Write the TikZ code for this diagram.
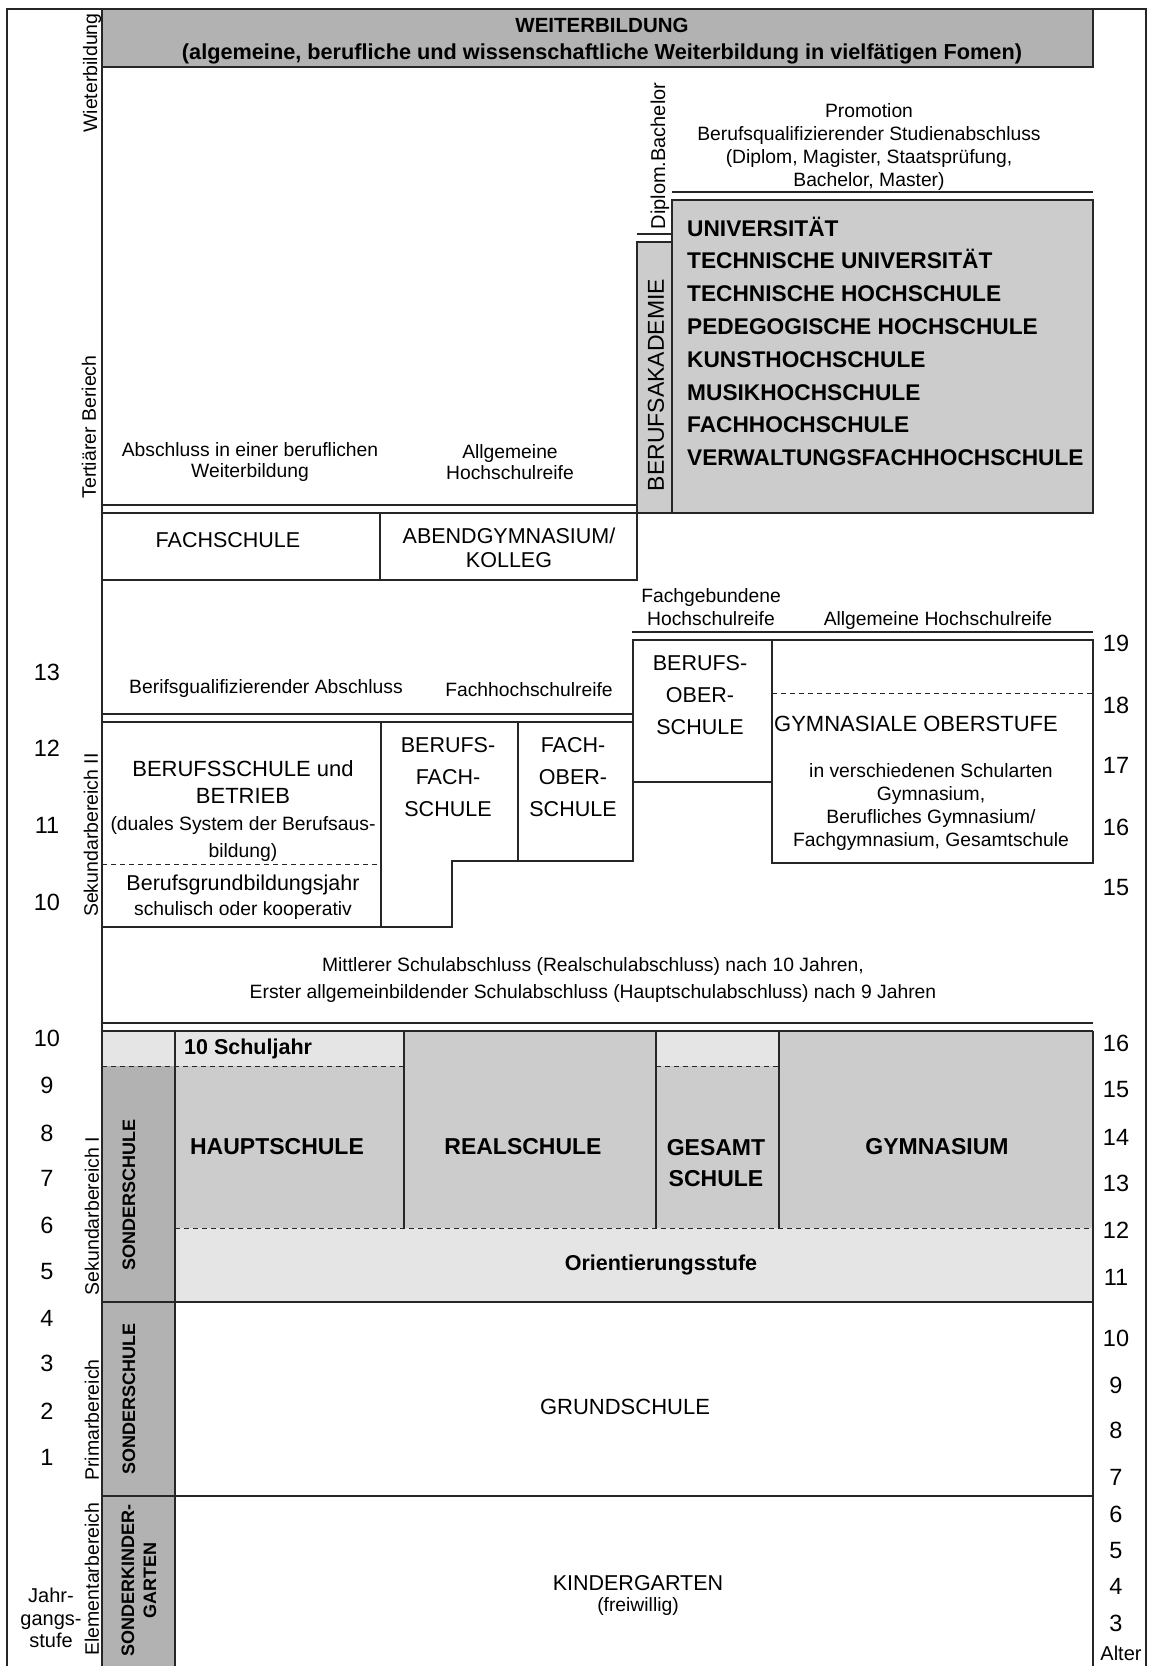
\documentclass[tikz,border=0pt]{standalone}
\usepackage{fontspec}
\setmainfont{Liberation Sans}
\usepackage{tikz}
\usetikzlibrary{%
  positioning
}
\definecolor{gdark}{gray}{0.70}
\definecolor{gmid}{gray}{0.80}
\definecolor{glight}{gray}{0.90}
\tikzstyle{ln}=[draw=black!85,line width=1.2pt]
\tikzstyle{thk}=[draw=black!85,line width=1.8pt]
\tikzstyle{dsh}=[draw=black!85,line width=1pt,dash pattern=on 5pt off 4pt]
\tikzstyle{txt}=[inner sep=0pt,align=center,font=\fontsize{19.3}{23}\selectfont]
\tikzstyle{big}=[txt,font=\fontsize{21.5}{32}\selectfont]
\tikzstyle{bbig}=[txt,font=\bfseries\fontsize{23}{31}\selectfont]
\tikzstyle{side}=[txt,rotate=90,font=\fontsize{19.5}{22}\selectfont]
\tikzstyle{sond}=[txt,rotate=90,font=\bfseries\fontsize{18}{22}\selectfont]
\tikzstyle{age}=[inner sep=0pt,font=\fontsize{23.5}{24}\selectfont]

\begin{document}
\begin{tikzpicture}[x=1pt,y=-1pt]
\useasboundingbox (0,0) rectangle (1150,1666);
% fills
\fill[gdark] (102,9) rectangle (1093,67);
\fill[gmid] (672,200) rectangle (1093,513);
\fill[gmid] (637,242) rectangle (672,513);
\fill[glight] (102,1031) rectangle (404,1066);
\fill[glight] (656,1031) rectangle (779,1066);
\fill[gmid] (175,1066) rectangle (404,1228);
\fill[gmid] (404,1031) rectangle (656,1228);
\fill[gmid] (656,1066) rectangle (779,1228);
\fill[gmid] (779,1031) rectangle (1093,1228);
\fill[glight] (175,1228) rectangle (1093,1302);
\fill[gdark] (102,1066) rectangle (175,1666);
% lines
\draw[ln] (7,1666) -- (7,9) -- (1146,9) -- (1146,1666);
\draw[ln] (102,9) -- (102,1666);
\draw[ln] (102,9) rectangle (1093,67);
\draw[ln] (672,192) -- (1093,192);
\draw[ln] (637,234) -- (672,234);
\draw[ln] (672,200) rectangle (1093,513);
\draw[ln] (637,242) rectangle (672,513);
\draw[ln] (102,505) -- (637,505);
\draw[ln] (102,513) rectangle (380,580);
\draw[ln] (380,513) rectangle (637,580);
\draw[ln] (102,714) -- (632,714);
\draw[ln] (632,632) -- (1093,632);
\draw[ln] (102,722) rectangle (381,927);
\draw[dsh] (102,864) -- (381,864);
\draw[ln] (381,722) -- (518,722) -- (518,861) -- (452,861) -- (452,927) -- (381,927);
\draw[ln] (518,722) rectangle (633,861);
\draw[ln] (633,640) rectangle (772,782);
\draw[ln] (772,640) rectangle (1093,863);
\draw[dsh] (772,693) -- (1093,693);
\draw[ln] (102,1023) -- (1093,1023);
\draw[ln] (102,1031) -- (1093,1031);
\draw[ln] (175,1031) -- (175,1666);
\draw[ln] (1093,1031) -- (1093,1666);
\draw[ln] (404,1031) -- (404,1228);
\draw[ln] (656,1031) -- (656,1228);
\draw[ln] (779,1031) -- (779,1228);
\draw[dsh] (102,1066) -- (404,1066) (656,1066) -- (779,1066);
\draw[dsh] (175,1228) -- (1093,1228);
\draw[thk] (102,1302) -- (1093,1302);
\draw[thk] (102,1496) -- (1093,1496);
% side labels
\node[side] (wb) at (92,73) {Wieterbildung};
\node[side] (tert) at (89,427) {Tertiärer Beriech};
\node[side] (sek2) at (91,835) {Sekundarbereich II};
\node[side] (sek1) at (92,1216) {Sekundarbereich I};
\node[side] (prim) at (92,1420) {Primarbereich};
\node[side] (elem) at (92,1579) {Elementarbereich};
\node[txt,font=\fontsize{20}{22.5}\selectfont] (jg) at (51,1618) {Jahr-\\gangs-\\stufe};
% ages
\foreach \n/\y [count=\i] in {13/672,12/748,11/825,10/902,10/1038,9/1085,8/1133,7/1178,6/1225,5/1272,4/1318,3/1363,2/1411,1/1457}
  \node[age] (js\i) at (47,\y) {\n};
\foreach \n/\y [count=\i] in {19/643,18/705,17/765,16/827,15/888,16/1043,15/1090,14/1137,13/1183,12/1230,11/1277,10/1338,9/1385,8/1430,7/1477,6/1514,5/1551,4/1586,3/1623}
  \node[age] (al\i) at (1116,\y) {\n};
\node[txt,font=\fontsize{20}{22}\selectfont] (alter) at (1121,1653) {Alter};
% tertiaer
\node[txt,font=\bfseries\fontsize{21.7}{27}\selectfont] (weiter) at (602,41) {{\fontsize{20.5}{27}\selectfont WEITERBILDUNG}\\(algemeine, berufliche und wissenschaftliche Weiterbildung in vielfätigen Fomen)};
\node[side,font=\fontsize{20}{22}\selectfont] (dipl) at (660,156) {Diplom.Bachelor};
\node[txt] (prom) at (869,147) {Promotion\\Berufsqualifizierender Studienabschluss\\(Diplom, Magister, Staatsprüfung,\\Bachelor, Master)};
\foreach \t [count=\i] in {UNIVERSITÄT,TECHNISCHE UNIVERSITÄT,TECHNISCHE HOCHSCHULE,PEDEGOGISCHE HOCHSCHULE,KUNSTHOCHSCHULE,MUSIKHOCHSCHULE,FACHHOCHSCHULE,VERWALTUNGSFACHHOCHSCHULE}
  \node[inner sep=0pt,anchor=base west,font=\bfseries\fontsize{22.7}{23}\selectfont] (uni\i) at (687,{236+32.8*(\i-1)}) {\t};
\node[side,font=\fontsize{23}{23}\selectfont] (ba) at (656,385) {BERUFSAKADEMIE};
\node[txt,font=\fontsize{19.3}{21}\selectfont] (absw) at (250,462) {Abschluss in einer beruflichen\\Weiterbildung};
\node[txt,font=\fontsize{19.3}{21}\selectfont] (ahr1) at (510,462) {Allgemeine\\Hochschulreife};
\node[big] (fs) at (228,540) {FACHSCHULE};
\node[big,font=\fontsize{21.5}{24}\selectfont] (abend) at (509,548) {ABENDGYMNASIUM/\\KOLLEG};
% sekundar II
\node[txt] (fgh) at (711,607) {Fachgebundene\\Hochschulreife};
\node[txt] (ahr2) at (938,620) {Allgemeine Hochschulreife};
\node[txt] (bqa) at (266,688) {Berifsgualifizierender Abschluss};
\node[txt] (fhr) at (529,690) {Fachhochschulreife};
\node[big] (bos) at (700,695) {BERUFS-\\OBER-\\SCHULE};
\node[big,font=\fontsize{22}{24}\selectfont] (gos) at (916,724) {GYMNASIALE OBERSTUFE};
\node[txt] (gosx) at (931,807) {in verschiedenen Schularten\\Gymnasium,\\Berufliches Gymnasium/\\Fachgymnasium, Gesamtschule};
\node[big,font=\fontsize{22}{27}\selectfont] (bsb) at (243,782) {BERUFSSCHULE und\\BETRIEB};
\node[txt,font=\fontsize{19.3}{27}\selectfont] (dual) at (243,839) {(duales System der Berufsaus-\\bildung)};
\node[big] (bgj) at (243,885) {Berufsgrundbildungsjahr};
\node[txt,below=6pt of bgj] (bgjx) {schulisch oder kooperativ};
\node[big] (bfs) at (448,777) {BERUFS-\\FACH-\\SCHULE};
\node[big] (fos) at (573,777) {FACH-\\OBER-\\SCHULE};
\node[txt,font=\fontsize{19.3}{27}\selectfont] (msa) at (593,980) {Mittlerer Schulabschluss (Realschulabschluss) nach 10 Jahren,\\Erster allgemeinbildender Schulabschluss (Hauptschulabschluss) nach 9 Jahren};
% sekundar I
\node[bbig,font=\bfseries\fontsize{21.5}{22}\selectfont,anchor=west] (zsj) at (184,1049) {10 Schuljahr};
\node[bbig] (haupt) at (277,1147) {HAUPTSCHULE};
\node[bbig] (real) at (523,1147) {REALSCHULE};
\node[bbig] (ges) at (716,1163) {GESAMT\\SCHULE};
\node[bbig] (gym) at (937,1147) {GYMNASIUM};
\node[bbig,font=\bfseries\fontsize{21.5}{22}\selectfont] (ori) at (661,1265) {Orientierungsstufe};
\node[sond] (sond1) at (129,1195) {SONDERSCHULE};
% primar, elementar
\node[sond] (sond2) at (129,1399) {SONDERSCHULE};
\node[big,font=\fontsize{22}{24}\selectfont] (grund) at (625,1407) {GRUNDSCHULE};
\node[sond] (sondkg) at (139,1580) {SONDERKINDER-\\GARTEN};
\node[big] (kg) at (638,1583) {KINDERGARTEN};
\node[txt,below=6pt of kg] (kgf) {(freiwillig)};
\end{tikzpicture}
\end{document}
